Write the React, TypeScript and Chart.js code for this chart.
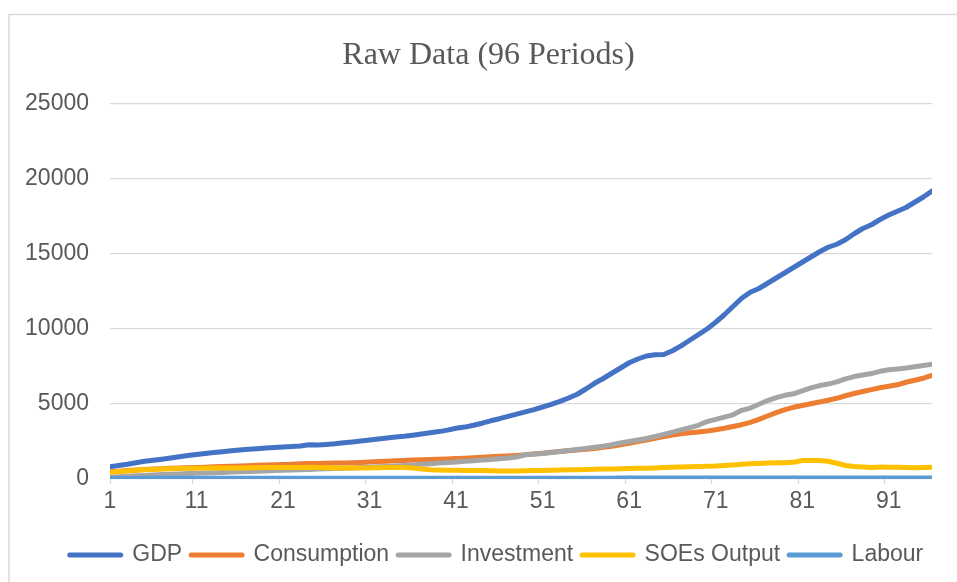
import React, { useEffect, useRef } from "react";
import { Chart, registerables } from "chart.js";

Chart.register(...registerables);

const periods = Array.from({ length: 96 }, (_, i) => i + 1);
const xTickValues = [1, 11, 21, 31, 41, 51, 61, 71, 81, 91];
const yMin = 0;
const yMax = 25000;
const yStep = 5000;

const seriesNames = ["GDP", "Consumption", "Investment", "SOEs Output", "Labour"];
const seriesColors = ["#4472C4", "#ED7D31", "#A5A5A5", "#FFC000", "#5B9BD5"];

const gdp = [
  820, 900, 980, 1080, 1180, 1250, 1320, 1400, 1480, 1560,
  1640, 1700, 1760, 1820, 1880, 1930, 1980, 2020, 2060, 2100,
  2130, 2160, 2200, 2280, 2260, 2300, 2350, 2420, 2470, 2530,
  2600, 2660, 2730, 2800, 2850, 2920, 3000, 3080, 3160, 3260,
  3380, 3460, 3580, 3720, 3880, 4020, 4180, 4330, 4480, 4630,
  4800, 4980, 5180, 5400, 5650, 6000, 6380, 6700, 7050, 7400,
  7750, 8000, 8200, 8280, 8300, 8550, 8880, 9250, 9620, 10000,
  10450, 10950, 11500, 12050, 12450, 12700, 13050, 13400, 13750, 14100,
  14450, 14800, 15150, 15450, 15650, 15950, 16350, 16700, 16950, 17300,
  17600, 17850, 18100, 18450, 18800, 19200,
];

const consumption = [
  480, 520, 560, 600, 630, 660, 690, 710, 730, 750,
  770, 790, 810, 830, 850, 870, 890, 910, 930, 950,
  970, 990, 1010, 1030, 1040, 1050, 1060, 1070, 1080, 1100,
  1130, 1160, 1190, 1220, 1240, 1260, 1280, 1300, 1320, 1340,
  1370, 1390, 1420, 1450, 1480, 1510, 1540, 1570, 1610, 1660,
  1720, 1780, 1840, 1890, 1940, 1990, 2040, 2110, 2190, 2280,
  2380, 2490, 2600, 2720, 2830, 2930, 3010, 3080, 3140, 3200,
  3280, 3380, 3500, 3620, 3780, 3980, 4200, 4420, 4620, 4780,
  4900, 5020, 5130, 5250, 5380, 5550, 5700, 5830, 5960, 6080,
  6180, 6280, 6450, 6580, 6720, 6900,
];

const investment = [
  120, 150, 180, 210, 240, 270, 300, 320, 340, 360,
  380, 400, 420, 440, 460, 480, 500, 520, 540, 560,
  580, 600, 620, 640, 660, 680, 700, 720, 740, 760,
  780, 810, 840, 870, 900, 940, 980, 1020, 1060, 1100,
  1140, 1180, 1220, 1260, 1300, 1350, 1400, 1460, 1620, 1660,
  1700, 1760, 1830, 1900, 1970, 2040, 2110, 2180, 2280, 2400,
  2500, 2600, 2700, 2830, 2980, 3130, 3280, 3430, 3580, 3830,
  3980, 4130, 4280, 4580, 4730, 4980, 5230, 5430, 5580, 5680,
  5880, 6080, 6230, 6330, 6480, 6680, 6830, 6930, 7030, 7180,
  7280, 7330, 7400, 7480, 7560, 7650,
];

const soesOutput = [
  450, 500, 540, 580, 610, 640, 660, 680, 700, 710,
  720, 730, 730, 740, 740, 740, 750, 750, 760, 760,
  770, 770, 770, 780, 760, 750, 740, 740, 740, 740,
  740, 750, 760, 770, 760, 730, 660, 620, 600, 590,
  580, 570, 570, 560, 550, 540, 540, 540, 550, 560,
  570, 580, 600, 610, 620, 640, 650, 660, 670, 690,
  700, 710, 720, 740, 760, 780, 800, 820, 840, 850,
  860, 900, 940, 980, 1010, 1040, 1060, 1080, 1090, 1110,
  1230, 1240, 1230, 1180, 1050, 900, 840, 800, 770, 800,
  790, 780, 760, 750, 760, 780,
];

const labour = [
  40, 40, 41, 41, 42, 42, 42, 43, 43, 43,
  44, 44, 44, 45, 45, 45, 46, 46, 46, 47,
  47, 47, 48, 48, 48, 49, 49, 49, 50, 50,
  50, 51, 51, 51, 52, 52, 52, 53, 53, 53,
  54, 54, 54, 55, 55, 55, 55, 56, 56, 56,
  56, 57, 57, 57, 57, 58, 58, 58, 58, 59,
  59, 59, 59, 60, 60, 60, 60, 60, 61, 61,
  61, 61, 61, 62, 62, 62, 62, 62, 62, 63,
  63, 63, 63, 63, 63, 64, 64, 64, 64, 64,
  64, 64, 65, 65, 65, 65,
];

const seriesValues = [gdp, consumption, investment, soesOutput, labour];

const SANS = "'Liberation Sans', Arial, sans-serif";
const SERIF = "'Liberation Serif', 'Times New Roman', serif";
const TEXT = "#595959";
const GRID = "#D9D9D9";

const frameBorder = {
  id: "frameBorder",
  beforeDraw(chart: any) {
    const { ctx, width, height } = chart;
    ctx.save();
    ctx.strokeStyle = GRID;
    ctx.lineWidth = 1.5;
    ctx.beginPath();
    ctx.moveTo(9, height);
    ctx.lineTo(9, 14.5);
    ctx.lineTo(width, 14.5);
    ctx.stroke();
    ctx.restore();
  },
};

const xTickMarks = {
  id: "xTickMarks",
  beforeDatasetsDraw(chart: any) {
    const { ctx, chartArea } = chart;
    const xs = chart.scales.x;
    ctx.save();
    ctx.strokeStyle = GRID;
    ctx.lineWidth = 1.25;
    xTickValues.forEach((v) => {
      const px = Math.round(xs.getPixelForValue(Math.max(xs.min, v - 0.5))) + 0.5;
      ctx.beginPath();
      ctx.moveTo(px, chartArea.bottom);
      ctx.lineTo(px, chartArea.bottom + 5);
      ctx.stroke();
    });
    ctx.restore();
  },
};

// nudge the legend block slightly to the right, as in the original
const legendShift = {
  id: "legendShift",
  afterLayout(chart: any) {
    const lg = chart.legend;
    if (lg) {
      lg.left += 8;
      lg.right += 8;
    }
  },
};

export default function App() {
  const ref = useRef<HTMLCanvasElement | null>(null);

  useEffect(() => {
    if (!ref.current) return;
    const datasets = seriesNames.map((name, i) => ({
      label: name,
      data: seriesValues[i],
      borderColor: seriesColors[i],
      backgroundColor: seriesColors[i],
      pointBorderColor: seriesColors[i],
      borderWidth: 5,
      borderCapStyle: "round" as const,
      borderJoinStyle: "round" as const,
      pointRadius: 0,
      pointHoverRadius: 0,
      tension: 0,
      order: seriesNames.length - i,
    }));

    const chart = new Chart(ref.current, {
      type: "line",
      data: { labels: periods, datasets },
      plugins: [frameBorder, xTickMarks, legendShift],
      options: {
        responsive: false,
        devicePixelRatio: 1,
        animation: false,
        layout: { padding: { left: 45, right: 45, top: 0, bottom: 5.5 } },
        plugins: {
          tooltip: { enabled: false },
          title: {
            display: true,
            text: "Raw Data (96 Periods)",
            color: TEXT,
            font: { family: SERIF, size: 32, weight: "normal" },
            padding: { top: 36.8, bottom: 28.8 },
          },
          legend: {
            position: "bottom",
            labels: {
              usePointStyle: true,
              pointStyle: "line",
              pointStyleWidth: 51,
              color: TEXT,
              font: { family: SANS, size: 23 },
              padding: 9,
              sort: (a: any, b: any) => a.datasetIndex - b.datasetIndex,
              generateLabels: (c: any) =>
                Chart.defaults.plugins.legend.labels
                  .generateLabels(c)
                  .map((l: any) => ({
                    ...l,
                    lineCap: "round",
                    lineWidth: 5,
                    strokeStyle: seriesColors[l.datasetIndex],
                    fillStyle: seriesColors[l.datasetIndex],
                  })),
            },
          },
        },
        scales: {
          x: {
            type: "linear",
            min: 1,
            max: 96,
            grid: { display: false, drawTicks: false },
            border: { display: false },
            afterBuildTicks: (s: any) => {
              s.ticks = xTickValues.map((v) => ({ value: v }));
            },
            afterFit: (s: any) => {
              s.height = 55.5;
            },
            ticks: {
              autoSkip: false,
              maxRotation: 0,
              padding: 9,
              color: TEXT,
              font: { family: SANS, size: 23 },
              callback: (v: any) => String(v),
            },
          },
          y: {
            min: yMin,
            max: yMax,
            grid: { color: GRID, lineWidth: 1.25, drawTicks: false },
            border: { display: false },
            afterFit: (s: any) => {
              s.width = 65;
              // let the tick labels extend left of the narrow axis box
              s._computeLabelArea = () => undefined;
            },
            ticks: {
              stepSize: yStep,
              padding: 21,
              color: TEXT,
              font: { family: SANS, size: 23 },
              callback: (v: any) => String(v),
            },
          },
        },
      },
    });
    return () => chart.destroy();
  }, []);

  return (
    <div
      style={{
        position: "fixed",
        left: 0,
        top: 0,
        width: 957,
        height: 582,
        overflow: "hidden",
        background: "#ffffff",
      }}
    >
      <canvas
        ref={ref}
        width={977}
        height={582}
        style={{ display: "block", width: 977, height: 582 }}
      />
    </div>
  );
}
